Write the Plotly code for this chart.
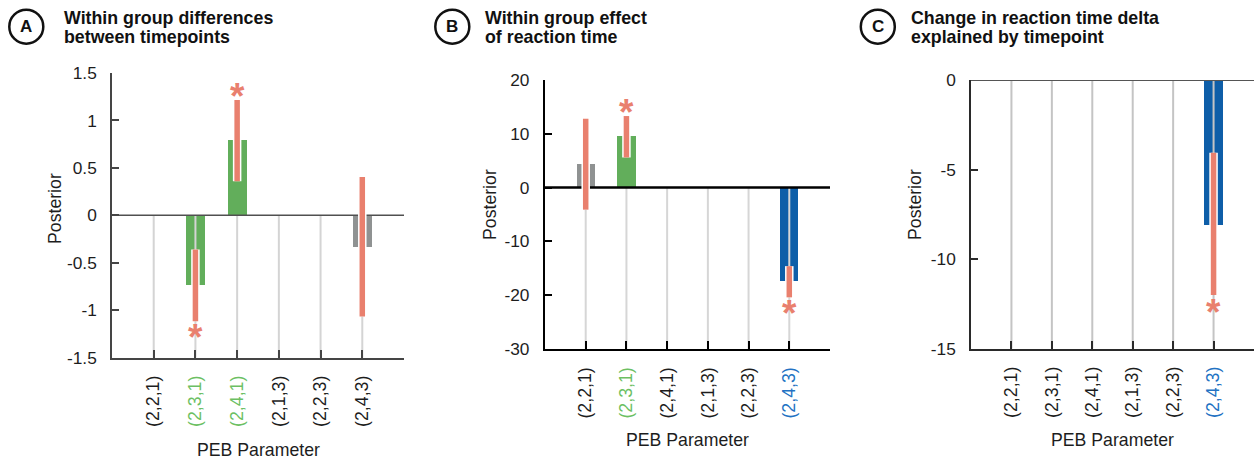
import plotly.graph_objects as go

# ---------------- data ----------------
categories = ["(2,2,1)", "(2,3,1)", "(2,4,1)", "(2,1,3)", "(2,2,3)", "(2,4,3)"]

# Panel A: within group differences between timepoints
A_values = [0, -0.735, 0.79, 0, 0, -0.335]
A_ci_lo = [None, -1.115, 0.36, None, None, -1.065]
A_ci_hi = [None, -0.36, 1.215, None, None, 0.405]
A_star = [None, -1.23, 1.30, None, None, None]
A_sig = ["ns", "green", "green", "ns", "ns", "ns"]
A_yticks = [1.5, 1, 0.5, 0, -0.5, -1, -1.5]
A_yticktext = ["1.5", "1", "0.5", "0", "-0.5", "-1", "-1.5"]

# Panel B: within group effect of reaction time
B_values = [4.3, 9.5, 0, 0, 0, -17.4]
B_ci_lo = [-4.1, 5.6, None, None, None, -20.4]
B_ci_hi = [12.8, 13.3, None, None, None, -14.6]
B_star = [None, 14.8, None, None, None, -22.4]
B_sig = ["ns", "green", "ns", "ns", "ns", "blue"]
B_yticks = [20, 10, 0, -10, -20, -30]
B_yticktext = ["20", "10", "0", "-10", "-20", "-30"]

# Panel C: change in reaction time delta explained by timepoint
C_values = [0, 0, 0, 0, 0, -8.1]
C_ci_lo = [None, None, None, None, None, -12.0]
C_ci_hi = [None, None, None, None, None, -4.06]
C_star = [None, None, None, None, None, -12.7]
C_sig = ["ns", "ns", "ns", "ns", "ns", "blue"]
C_yticks = [0, -5, -10, -15]
C_yticktext = ["0", "-5", "-10", "-15"]

titles = [
    ("A", "Within group differences", "between timepoints"),
    ("B", "Within group effect", "of reaction time"),
    ("C", "Change in reaction time delta", "explained by timepoint"),
]

# ---------------- styling ----------------
W, H = 1254, 461
FONT = "Liberation Sans, Arial, Helvetica, sans-serif"
TXT = "#1d1d1d"
BAR_COL = {"ns": "#8f9292", "green": "#62ae5b", "blue": "#0e5ea8"}
LBL_COL = {"ns": TXT, "green": "#6cbf63", "blue": "#2272c3"}
RED = "#e9806e"


def px_x(v):
    return v / W


def px_y(v):
    return 1 - v / H


panels = [
    dict(vals=A_values, lo=A_ci_lo, hi=A_ci_hi, star=A_star, sig=A_sig,
         yt=A_yticks, ytt=A_yticktext, yr=[-1.5, 1.5], stem="#d4d4d4",
         xd=[112, 404], yd=[73, 357.7], axc="#454545", axw=1.5, zc="#505050", zw=1.5,
         ytitle=(55, 209), xtitle=(258, 450), circ=(26.3, 26.7), tx=62),
    dict(vals=B_values, lo=B_ci_lo, hi=B_ci_hi, star=B_star, sig=B_sig,
         yt=B_yticks, ytt=B_yticktext, yr=[-30, 20], stem="#d6d6d6",
         xd=[545, 830], yd=[80, 349], axc="#000000", axw=2.2, zc="#000000", zw=2.5,
         ytitle=(490, 205), xtitle=(687, 440), circ=(452.3, 26.7), tx=483),
    dict(vals=C_values, lo=C_ci_lo, hi=C_ci_hi, star=C_star, sig=C_sig,
         yt=C_yticks, ytt=C_yticktext, yr=[-15, 0], stem="#c4c4c4",
         xd=[971, 1254], yd=[80, 348.7], axc="#2a2a2a", axw=1.5, zc="#555555", zw=2,
         ytitle=(915, 205), xtitle=(1112.5, 440), circ=(877.8, 26.7), tx=909),
]

fig = go.Figure()
pos = list(range(len(categories)))
xr = [-1, len(categories)]
annotations = []
shapes = []

for i, p in enumerate(panels):
    n = "" if i == 0 else str(i + 1)
    xa, ya = "x" + n, "y" + n
    ybot = p["yr"][0]

    # grey stems from bottom axis to zero
    sx, sy = [], []
    for k in pos:
        sx += [k, k, None]
        sy += [ybot, 0, None]
    fig.add_trace(go.Scatter(x=sx, y=sy, mode="lines", line=dict(color=p["stem"], width=2),
                             xaxis=xa, yaxis=ya, hoverinfo="skip", showlegend=False))

    # bars
    fig.add_trace(go.Bar(x=pos, y=p["vals"], width=0.45,
                         marker=dict(color=[BAR_COL[s] for s in p["sig"]], line=dict(width=0)),
                         xaxis=xa, yaxis=ya, showlegend=False))

    # zero line across the axis range
    fig.add_trace(go.Scatter(x=xr, y=[0, 0], mode="lines", line=dict(color=p["zc"], width=p["zw"]),
                             xaxis=xa, yaxis=ya, hoverinfo="skip", showlegend=False))

    # error bars (white halo + red core)
    ex, ey = [], []
    for k, lo, hi in zip(pos, p["lo"], p["hi"]):
        if lo is None:
            continue
        ex += [k, k, None]
        ey += [lo, hi, None]
    fig.add_trace(go.Scatter(x=ex, y=ey, mode="lines", line=dict(color="white", width=8.5),
                             xaxis=xa, yaxis=ya, hoverinfo="skip", showlegend=False))
    fig.add_trace(go.Scatter(x=ex, y=ey, mode="lines", line=dict(color=RED, width=5.5),
                             xaxis=xa, yaxis=ya, hoverinfo="skip", showlegend=False))

    # significance stars
    for k, s in zip(pos, p["star"]):
        if s is None:
            continue
        annotations.append(dict(x=k, y=s, xref=xa, yref=ya, text="<b>*</b>", showarrow=False,
                                xanchor="center", yanchor="middle", yshift=-5,
                                font=dict(family=FONT, size=37, color=RED)))

    tick_text = ['<span style="color:%s">%s</span>' % (LBL_COL[s], c)
                 for c, s in zip(categories, p["sig"])]

    xaxis = dict(domain=[px_x(p["xd"][0]), min(1, px_x(p["xd"][1]))], anchor=ya, range=xr,
                 tickmode="array", tickvals=pos, ticktext=tick_text, tickangle=-90,
                 ticks="inside", ticklen=8, tickwidth=2, tickcolor=p["axc"],
                 showline=True, linecolor=p["axc"], linewidth=p["axw"],
                 showgrid=False, zeroline=False, ticklabelstandoff=9, automargin=False,
                 tickfont=dict(family=FONT, size=17.8, color=TXT), fixedrange=True)
    yaxis = dict(domain=[px_y(p["yd"][1]), px_y(p["yd"][0])], anchor=xa, range=p["yr"],
                 tickmode="array", tickvals=p["yt"], ticktext=p["ytt"],
                 ticks="inside", ticklen=7, tickwidth=1.5, tickcolor=p["axc"],
                 showline=True, linecolor=p["axc"], linewidth=p["axw"],
                 showgrid=False, zeroline=False, ticklabelstandoff=10, automargin=False,
                 tickfont=dict(family=FONT, size=17.3, color=TXT), fixedrange=True)
    fig.update_layout({"xaxis" + n: xaxis, "yaxis" + n: yaxis})

    # axis titles
    annotations.append(dict(x=px_x(p["ytitle"][0]), y=px_y(p["ytitle"][1]), xref="paper", yref="paper",
                            text="Posterior", textangle=-90, showarrow=False,
                            xanchor="center", yanchor="middle",
                            font=dict(family=FONT, size=17.7, color=TXT)))
    annotations.append(dict(x=px_x(p["xtitle"][0]), y=px_y(p["xtitle"][1]), xref="paper", yref="paper",
                            text="PEB Parameter", showarrow=False,
                            xanchor="center", yanchor="middle",
                            font=dict(family=FONT, size=17.7, color=TXT)))

    # panel letter in circle
    cx, cy = p["circ"]
    r = 17
    shapes.append(dict(type="circle", xref="paper", yref="paper",
                       x0=px_x(cx - r), x1=px_x(cx + r), y0=px_y(cy + r), y1=px_y(cy - r),
                       line=dict(color="#111111", width=2.5)))
    letter, l1, l2 = titles[i]
    annotations.append(dict(x=px_x(cx), y=px_y(cy), xref="paper", yref="paper", text="<b>%s</b>" % letter,
                            showarrow=False, xanchor="center", yanchor="middle",
                            font=dict(family=FONT, size=17, color="#111111")))
    for line, yy in ((l1, 17.6), (l2, 37.2)):
        annotations.append(dict(x=px_x(p["tx"]), y=px_y(yy), xref="paper", yref="paper",
                                text="<b>%s</b>" % line, showarrow=False,
                                xanchor="left", yanchor="middle",
                                font=dict(family=FONT, size=17.8, color="#111111")))

fig.update_layout(template="none", width=W, height=H, autosize=False,
                  margin=dict(l=0, r=0, t=0, b=0, pad=0, autoexpand=False),
                  paper_bgcolor="white", plot_bgcolor="white",
                  annotations=annotations, shapes=shapes, bargap=0,
                  showlegend=False, font=dict(family=FONT, color=TXT))

fig.write_html("out.html", config={"displayModeBar": False},
               post_script="document.documentElement.style.margin='0';"
                           "document.documentElement.style.overflow='hidden';"
                           "document.body.style.margin='0';document.body.style.padding='0';"
                           "document.body.style.overflow='hidden';"
                           "var gd=document.getElementById('{plot_id}');"
                           "gd.style.position='fixed';gd.style.top='0px';gd.style.left='0px';")
